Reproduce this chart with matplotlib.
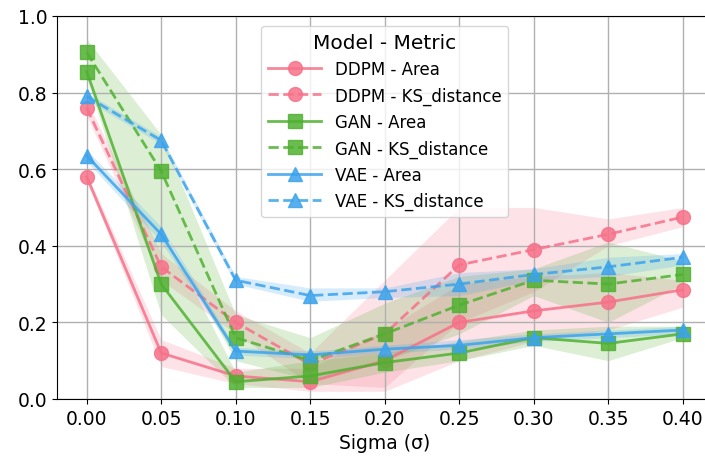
import matplotlib
matplotlib.use('Agg')
import matplotlib.pyplot as plt

sigma = [0.00, 0.05, 0.10, 0.15, 0.20, 0.25, 0.30, 0.35, 0.40]

# mean values per model / metric
ddpm_area = [0.58, 0.12, 0.06, 0.045, 0.10, 0.20, 0.23, 0.253, 0.285]
ddpm_ks = [0.76, 0.345, 0.20, 0.09, 0.17, 0.35, 0.39, 0.43, 0.475]
gan_area = [0.855, 0.30, 0.045, 0.06, 0.095, 0.12, 0.16, 0.145, 0.17]
gan_ks = [0.905, 0.595, 0.16, 0.10, 0.17, 0.245, 0.31, 0.30, 0.325]
vae_area = [0.635, 0.43, 0.125, 0.115, 0.13, 0.14, 0.16, 0.17, 0.18]
vae_ks = [0.79, 0.675, 0.31, 0.27, 0.28, 0.30, 0.325, 0.345, 0.37]

# confidence band edges
ddpm_area_lo = [0.57, 0.085, 0.04, 0.02, 0.02, 0.10, 0.15, 0.18, 0.24]
ddpm_area_hi = [0.59, 0.155, 0.08, 0.08, 0.18, 0.30, 0.32, 0.33, 0.31]
ddpm_ks_lo = [0.74, 0.31, 0.17, 0.04, 0.03, 0.20, 0.28, 0.40, 0.45]
ddpm_ks_hi = [0.78, 0.38, 0.23, 0.12, 0.31, 0.50, 0.50, 0.47, 0.50]
gan_area_lo = [0.84, 0.22, 0.03, 0.03, 0.07, 0.10, 0.14, 0.10, 0.16]
gan_area_hi = [0.87, 0.45, 0.07, 0.10, 0.12, 0.15, 0.18, 0.19, 0.19]
gan_ks_lo = [0.87, 0.45, 0.10, 0.05, 0.10, 0.17, 0.27, 0.20, 0.30]
gan_ks_hi = [0.94, 0.69, 0.22, 0.16, 0.25, 0.32, 0.34, 0.41, 0.36]
vae_area_lo = [0.62, 0.41, 0.115, 0.105, 0.12, 0.13, 0.15, 0.16, 0.17]
vae_area_hi = [0.65, 0.45, 0.135, 0.125, 0.14, 0.155, 0.17, 0.18, 0.19]
vae_ks_lo = [0.78, 0.665, 0.30, 0.255, 0.265, 0.27, 0.31, 0.32, 0.35]
vae_ks_hi = [0.80, 0.685, 0.32, 0.29, 0.29, 0.33, 0.34, 0.37, 0.38]

series = [
    ('DDPM - Area', ddpm_area, ddpm_area_lo, ddpm_area_hi, '#f77189', 'o', '-'),
    ('DDPM - KS_distance', ddpm_ks, ddpm_ks_lo, ddpm_ks_hi, '#f77189', 'o', '--'),
    ('GAN - Area', gan_area, gan_area_lo, gan_area_hi, '#50b131', 's', '-'),
    ('GAN - KS_distance', gan_ks, gan_ks_lo, gan_ks_hi, '#50b131', 's', '--'),
    ('VAE - Area', vae_area, vae_area_lo, vae_area_hi, '#3ba3ec', '^', '-'),
    ('VAE - KS_distance', vae_ks, vae_ks_lo, vae_ks_hi, '#3ba3ec', '^', '--'),
]

fig = plt.figure(figsize=(7.05, 4.64), dpi=100)
ax = fig.add_axes([0.0807, 0.138, 0.930, 0.8254])

for label, vals, lo, hi, color, marker, ls in series:
    ax.fill_between(sigma, lo, hi, color=color, alpha=0.2, linewidth=0)
    ax.plot(sigma, vals, color=color, marker=marker, linestyle=ls, linewidth=2,
            markersize=10, alpha=0.85, label=label)

ax.set_xlim(-0.02, 0.42)
ax.set_ylim(0, 1.0)
ax.set_xticks(sigma)
ax.set_yticks([0.0, 0.2, 0.4, 0.6, 0.8, 1.0])
ax.tick_params(labelsize=13.5)
ax.set_xlabel('Sigma (σ)', fontsize=13.5)
ax.grid(True, color='#b0b0b0', linewidth=1)

leg = ax.legend(title='Model - Metric', loc='upper center', fontsize=12,
                title_fontsize=14.5, handlelength=3.2, borderaxespad=0.6)

fig.savefig('out.png', dpi=100)
